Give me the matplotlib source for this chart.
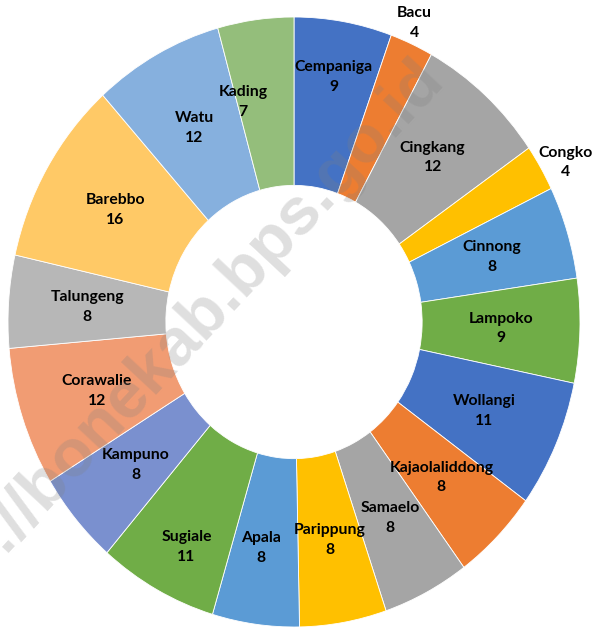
import math
import matplotlib.pyplot as plt

# desa / kelurahan and their counts
names = ["Cempaniga", "Bacu", "Cingkang", "Congko", "Cinnong", "Lampoko",
         "Wollangi", "Kajaolaliddong", "Samaelo", "Parippung", "Apala",
         "Sugiale", "Kampuno", "Corawalie", "Talungeng", "Barebbo", "Watu",
         "Kading"]
values = [9, 4, 12, 4, 8, 9, 11, 8, 8, 8, 8, 11, 8, 12, 8, 16, 12, 7]
colors = ["#4472C4", "#ED7D31", "#A5A5A5", "#FFC000", "#5B9BD5", "#70AD47",
          "#4472C4", "#ED7D31", "#A5A5A5", "#FFC000", "#5B9BD5", "#70AD47",
          "#7A90CF", "#F19C73", "#B7B7B7", "#FFC966", "#86B0DE", "#94BE7B"]
outside = ["Bacu", "Congko"]

# small hand moves of some labels (pixels, right / down), like in the original
nudge = {"Kading": (-23, -1), "Cempaniga": (4, -27), "Sugiale": (-8, 31),
         "Apala": (-5, 7), "Bacu": (-7, 1), "Congko": (5, 7)}

fnt = ["Lato", "DejaVu Sans"]

fig = plt.figure(figsize=(5.93, 6.28), dpi=100)
W, H = 593, 628
cx, cy, rx, ry = 294, 322, 286, 305
ax = fig.add_axes([(cx - rx) / W, (H - cy - ry) / H, 2 * rx / W, 2 * ry / H])

wedges, _ = ax.pie(values, colors=colors, startangle=90, counterclock=False,
                   radius=1, wedgeprops=dict(width=0.552, edgecolor="white",
                                             linewidth=0.6))
ax.set_aspect("auto")
ax.set_xlim(-1, 1)
ax.set_ylim(-1, 1)
ax.axis("off")

for w, name, v in zip(wedges, names, values):
    mid = math.radians((w.theta1 + w.theta2) / 2)
    r = 1.08 if name in outside else 0.725
    dx, dy = nudge.get(name, (0, 0))
    x = r * math.cos(mid) + dx / rx
    y = r * math.sin(mid) - dy / ry
    ax.text(x, y, f"{name}\n{v}", ha="center", va="center", fontsize=11.3,
            fontweight="bold", family=fnt, color="black", linespacing=1.5)

# watermark
fig.text(445 / W, 1 - 80 / H, "http://bonekab.bps.go.id", rotation=47,
         rotation_mode="anchor", ha="right", va="baseline", fontsize=48,
         fontweight="bold", family=["Liberation Sans", "DejaVu Sans"],
         color="gray", alpha=0.25)

fig.savefig("out.png", dpi=100)
